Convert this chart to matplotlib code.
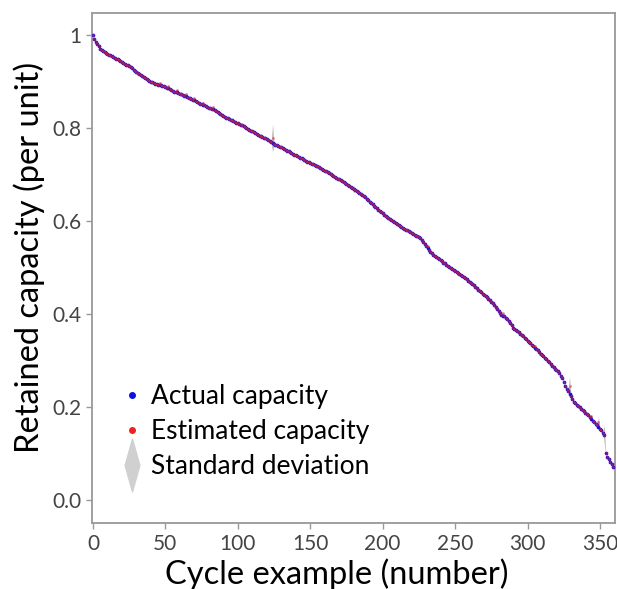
import matplotlib
matplotlib.use("Agg")
import matplotlib.pyplot as plt
import numpy as np
from matplotlib.lines import Line2D
from matplotlib.path import Path

plt.rcParams['font.family'] = ['Lato', 'DejaVu Sans']

# actual retained capacity, one value per cycle
actual = [
    1.000, 0.991, 0.986, 0.981, 0.976, 0.971, 0.968, 0.966, 0.964, 0.962,
    0.960, 0.958, 0.957, 0.955, 0.953, 0.952, 0.950, 0.948, 0.946, 0.945,
    0.943, 0.941, 0.939, 0.937, 0.935, 0.933, 0.931, 0.929, 0.926, 0.924,
    0.921, 0.919, 0.917, 0.914, 0.912, 0.910, 0.907, 0.905, 0.903, 0.901,
    0.900, 0.899, 0.898, 0.896, 0.895, 0.894, 0.893, 0.892, 0.891, 0.890,
    0.889, 0.887, 0.886, 0.884, 0.883, 0.881, 0.879, 0.878, 0.877, 0.876,
    0.874, 0.873, 0.872, 0.870, 0.869, 0.867, 0.866, 0.864, 0.863, 0.861,
    0.860, 0.858, 0.857, 0.855, 0.853, 0.852, 0.850, 0.849, 0.847, 0.845,
    0.844, 0.843, 0.842, 0.841, 0.840, 0.838, 0.835, 0.833, 0.831, 0.829,
    0.827, 0.825, 0.823, 0.822, 0.820, 0.818, 0.817, 0.815, 0.814, 0.812,
    0.811, 0.809, 0.807, 0.806, 0.804, 0.802, 0.801, 0.799, 0.797, 0.795,
    0.793, 0.791, 0.790, 0.788, 0.786, 0.784, 0.783, 0.781, 0.779, 0.778,
    0.776, 0.774, 0.772, 0.770, 0.768, 0.766, 0.765, 0.763, 0.762, 0.760,
    0.759, 0.757, 0.756, 0.754, 0.752, 0.750, 0.749, 0.747, 0.745, 0.743,
    0.742, 0.740, 0.738, 0.737, 0.735, 0.733, 0.732, 0.730, 0.728, 0.727,
    0.725, 0.724, 0.722, 0.721, 0.719, 0.718, 0.716, 0.715, 0.713, 0.711,
    0.709, 0.707, 0.705, 0.703, 0.701, 0.699, 0.697, 0.695, 0.693, 0.691,
    0.690, 0.688, 0.686, 0.684, 0.682, 0.680, 0.678, 0.676, 0.674, 0.671,
    0.669, 0.667, 0.665, 0.663, 0.661, 0.659, 0.656, 0.654, 0.651, 0.648,
    0.645, 0.642, 0.639, 0.636, 0.633, 0.631, 0.628, 0.625, 0.622, 0.620,
    0.617, 0.614, 0.612, 0.609, 0.606, 0.604, 0.602, 0.600, 0.598, 0.596,
    0.594, 0.592, 0.590, 0.588, 0.586, 0.584, 0.582, 0.580, 0.578, 0.576,
    0.575, 0.573, 0.571, 0.569, 0.568, 0.566, 0.563, 0.559, 0.555, 0.550,
    0.546, 0.542, 0.538, 0.534, 0.531, 0.528, 0.526, 0.523, 0.521, 0.518,
    0.516, 0.514, 0.511, 0.509, 0.506, 0.503, 0.501, 0.499, 0.497, 0.494,
    0.492, 0.490, 0.488, 0.486, 0.484, 0.482, 0.480, 0.477, 0.475, 0.472,
    0.470, 0.468, 0.465, 0.462, 0.459, 0.456, 0.453, 0.450, 0.447, 0.444,
    0.441, 0.438, 0.436, 0.433, 0.430, 0.427, 0.423, 0.420, 0.416, 0.412,
    0.407, 0.402, 0.399, 0.397, 0.395, 0.392, 0.389, 0.385, 0.381, 0.376,
    0.371, 0.368, 0.366, 0.363, 0.361, 0.358, 0.355, 0.352, 0.349, 0.346,
    0.343, 0.340, 0.337, 0.334, 0.331, 0.328, 0.325, 0.322, 0.318, 0.315,
    0.312, 0.309, 0.306, 0.303, 0.299, 0.296, 0.292, 0.289, 0.286, 0.283,
    0.280, 0.277, 0.273, 0.268, 0.263, 0.253, 0.246, 0.240, 0.234, 0.229,
    0.223, 0.217, 0.211, 0.208, 0.205, 0.202, 0.200, 0.197, 0.194, 0.191,
    0.188, 0.185, 0.182, 0.178, 0.175, 0.171, 0.167, 0.164, 0.161, 0.158,
    0.154, 0.150, 0.145, 0.141, 0.101, 0.093, 0.088, 0.083, 0.077, 0.071,
]

# where the estimate visibly departs from the actual value
est_offsets = {46: 0.005, 52: 0.005, 58: 0.005, 64: 0.005, 70: 0.005,
               76: 0.005, 83: 0.005, 124: 0.011, 231: 0.004, 283: 0.005,
               305: 0.004, 329: 0.016, 344: 0.006, 349: 0.009}

# standard deviation of the estimate, mostly tiny
std_default = 0.002
std_spikes = {124: 0.030, 180: 0.008, 273: 0.006, 308: 0.008,
              329: 0.021, 349: 0.011, 353: 0.020}

cycles = np.arange(len(actual))
actual = np.array(actual)
estimated = actual.copy()
for c, d in est_offsets.items():
    estimated[c] += d
std = np.full(len(actual), std_default)
for c, s in std_spikes.items():
    std[c] = s

fig = plt.figure(figsize=(6.17, 5.89), dpi=100)
ax = fig.add_axes([0.149, 0.1115, 0.848, 0.8665])

ax.fill_between(cycles, estimated - std, estimated + std, color='#b0b0b0',
                alpha=0.85, linewidth=0)
ax.scatter(cycles, actual, s=7, color='#1010dd', linewidths=0, zorder=3)
ax.scatter(cycles, estimated, s=4, color='#ee2222', alpha=0.55,
           linewidths=0, zorder=4)

ax.set_xlim(-0.7, 360.5)
ax.set_ylim(-0.05, 1.048)
ax.set_xticks([0, 50, 100, 150, 200, 250, 300, 350])
ax.set_yticks([0.0, 0.2, 0.4, 0.6, 0.8, 1.0])
ax.set_yticklabels(['0.0', '0.2', '0.4', '0.6', '0.8', '1'])

for sp in ax.spines.values():
    sp.set_color('#999999')
    sp.set_linewidth(1.3)
ax.tick_params(colors='#999999', labelcolor='#444444', labelsize=15,
               length=4, width=1)

ax.set_xlabel('Cycle example (number)', fontsize=23.5, labelpad=2)
ax.set_ylabel('Retained capacity (per unit)', fontsize=23.5, labelpad=5)
ax.xaxis.set_label_coords(0.468, -0.068)
ax.yaxis.set_label_coords(-0.09, 0.52)

lens = Path([(0, -1), (0.28, 0), (0, 1), (-0.28, 0), (0, -1)],
            [Path.MOVETO, Path.LINETO, Path.LINETO, Path.LINETO, Path.CLOSEPOLY])
handles = [
    Line2D([], [], linestyle='none', marker='o', markersize=4,
           color='#1010dd'),
    Line2D([], [], linestyle='none', marker='o', markersize=4,
           color='#ee2222'),
    Line2D([], [], linestyle='none', marker=lens, markersize=38,
           color='#d0d0d0'),
]
ax.legend(handles, ['Actual capacity', 'Estimated capacity',
                    'Standard deviation'],
          loc='lower left', bbox_to_anchor=(0.0, 0.04), frameon=False,
          fontsize=19, handletextpad=0.15, labelspacing=0.38,
          handlelength=1.2)

fig.savefig('out.png', dpi=100)
